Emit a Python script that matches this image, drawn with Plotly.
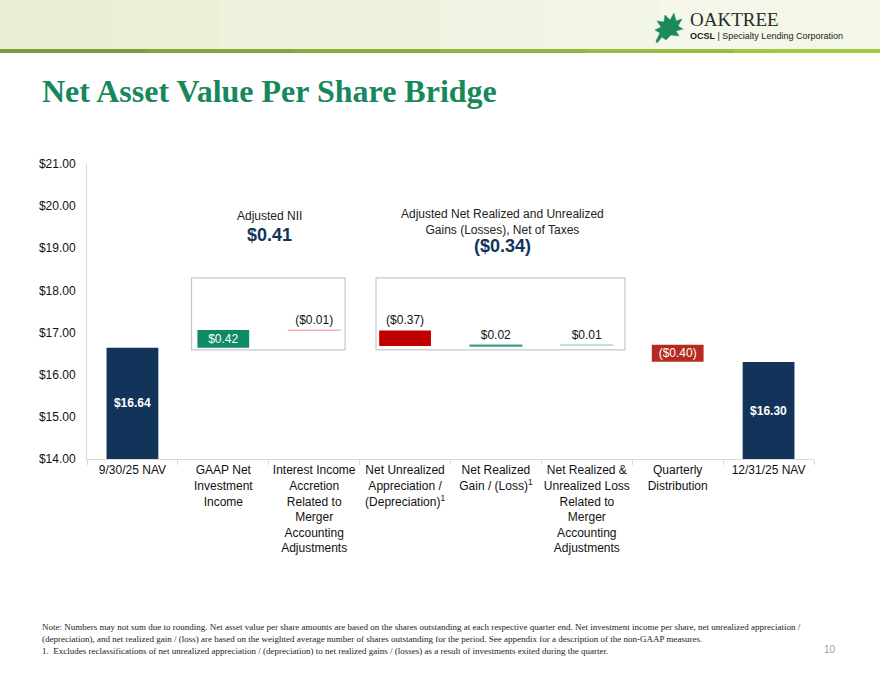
import plotly.graph_objects as go

# ---------------- data ----------------
keys = ["nav0", "gaap", "accr", "unrl", "real", "merg", "dist", "nav1"]
tick_labels = [
    "9/30/25 NAV",
    "GAAP Net<br>Investment<br>Income",
    "Interest Income<br>Accretion<br>Related to<br>Merger<br>Accounting<br>Adjustments",
    "Net Unrealized<br>Appreciation /<br>(Depreciation)<sup>1</sup>",
    "Net Realized<br>Gain / (Loss)<sup>1</sup>",
    "Net Realized &<br>Unrealized Loss<br>Related to<br>Merger<br>Accounting<br>Adjustments",
    "Quarterly<br>Distribution",
    "12/31/25 NAV",
]
start_nav = 16.64
deltas = [0.42, -0.01, -0.37, 0.02, 0.01, -0.40]
end_nav = 16.30
value_labels = ["<b>$16.64</b>", "$0.42", "($0.01)", "($0.37)", "$0.02", "$0.01", "($0.40)", "<b>$16.30</b>"]
bar_colors = ["#12345a", "#0f8a66", "#f0b4ae", "#c00000", "#3f9d8c", "#a8dccf", "#b52b1f", "#12345a"]
text_pos = ["inside", "inside", "outside", "outside", "outside", "outside", "inside", "inside"]
y_ticks = [14, 15, 16, 17, 18, 19, 20, 21]

# --------------- bases ----------------
bases, heights = [14.0], [start_nav - 14.0]
level = start_nav
for d in deltas:
    new = level + d
    bases.append(min(level, new))
    heights.append(abs(d))
    level = new
bases.append(14.0)
heights.append(end_nav - 14.0)

W, H = 880, 680
L, R, T, B = 87, 814, 164, 459


def px(x):
    return (x - L) / (R - L)


def py(y):
    return (B - y) / (B - T)


fig = go.Figure()
fig.add_trace(go.Bar(
    x=keys, y=heights, base=bases,
    marker=dict(color=bar_colors, line=dict(color=bar_colors, width=[0, 0, 1.2, 0, 1.2, 1.2, 0, 0])),
    text=value_labels, textposition=text_pos, constraintext="none",
    insidetextanchor="middle",
    insidetextfont=dict(family="Arial, Liberation Sans", size=12, color="white"),
    outsidetextfont=dict(family="Arial, Liberation Sans", size=12, color="#111111"),
    cliponaxis=False, width=0.57, hoverinfo="skip",
))

shapes = []
# header background bands
hdr_cols = ["#e9efd6", "#ebf0d9", "#edf2dc", "#eef3df", "#f0f4e2", "#f2f6e6", "#f4f7ea", "#f3f7e7"]
n = len(hdr_cols)
for i, c in enumerate(hdr_cols):
    shapes.append(dict(type="rect", xref="paper", yref="paper", x0=px(i * W / n), x1=px((i + 1) * W / n + 1),
                       y0=py(0), y1=py(49), fillcolor=c, line=dict(width=0), layer="below"))
stripe_cols = ["#7f9c3a", "#86a43b", "#8eac3c", "#95b43d", "#9cbc3e", "#a5c640"]
m = len(stripe_cols)
for i, c in enumerate(stripe_cols):
    shapes.append(dict(type="rect", xref="paper", yref="paper", x0=px(i * W / m), x1=px((i + 1) * W / m + 1),
                       y0=py(49), y1=py(53), fillcolor=c, line=dict(width=0), layer="below"))

# leaf logo
leaf_pts = [(656, 41), (660, 33), (655, 30), (661, 27), (657, 21), (664, 22), (665, 15), (670, 20),
            (674, 13), (676, 21), (682, 19), (678, 26), (683, 29), (676, 31), (679, 36), (671, 35),
            (666, 40), (662, 37), (657, 43)]
path = "M " + " L ".join(f"{px(a):.5f},{py(b):.5f}" for a, b in leaf_pts) + " Z"
shapes.append(dict(type="path", xref="paper", yref="paper", path=path, fillcolor="#1a8a5c",
                   line=dict(color="#1a8a5c", width=0.5)))

# group boxes (in category / value units)
for x0, x1 in [(0.65, 2.34), (2.68, 5.42)]:
    shapes.append(dict(type="rect", xref="x", yref="y", x0=x0, x1=x1, y0=16.59, y1=18.30,
                       line=dict(color="#c8c8c8", width=1.2), fillcolor="rgba(0,0,0,0)", layer="below"))

annotations = [
    dict(x=px(40), y=py(91), text="<b>Net Asset Value Per Share Bridge</b>", xanchor="left", yanchor="middle",
         font=dict(family="Liberation Serif, Times New Roman, serif", size=32, color="#17885b")),
    dict(x=px(688), y=py(19), text="OAKTREE", xanchor="left", yanchor="middle",
         font=dict(family="Liberation Serif, serif", size=19, color="#2a2a2a")),
    dict(x=px(688), y=py(36), text="<b>OCSL</b> | Specialty Lending Corporation", xanchor="left", yanchor="middle",
         font=dict(family="Liberation Sans, Arial", size=9, color="#222222")),
    dict(x=px(269), y=py(216), text="Adjusted NII", xanchor="center", yanchor="middle",
         font=dict(family="Arial, Liberation Sans", size=12, color="#222222")),
    dict(x=px(269), y=py(235), text="<b>$0.41</b>", xanchor="center", yanchor="middle",
         font=dict(family="Arial, Liberation Sans", size=18, color="#12345a")),
    dict(x=px(502), y=py(222), text="Adjusted Net Realized and Unrealized<br>Gains (Losses), Net of Taxes",
         xanchor="center", yanchor="middle",
         font=dict(family="Arial, Liberation Sans", size=12, color="#222222")),
    dict(x=px(502), y=py(246), text="<b>($0.34)</b>", xanchor="center", yanchor="middle",
         font=dict(family="Arial, Liberation Sans", size=18, color="#12345a")),
    dict(x=px(40), y=py(627),
         text="Note: Numbers may not sum due to rounding. Net asset value per share amounts are based on the shares outstanding at each respective quarter end. Net investment income per share, net unrealized appreciation /",
         xanchor="left", yanchor="middle",
         font=dict(family="Liberation Serif, Times New Roman, serif", size=9, color="#222222")),
    dict(x=px(40), y=py(639),
         text="(depreciation), and net realized gain / (loss) are based on the weighted average number of shares outstanding for the period. See appendix for a description of the non-GAAP measures.",
         xanchor="left", yanchor="middle",
         font=dict(family="Liberation Serif, Times New Roman, serif", size=9, color="#222222")),
    dict(x=px(40), y=py(651),
         text="1.  Excludes reclassifications of net unrealized appreciation / (depreciation) to net realized gains / (losses) as a result of investments exited during the quarter.",
         xanchor="left", yanchor="middle",
         font=dict(family="Liberation Serif, Times New Roman, serif", size=9, color="#222222")),
    dict(x=px(838), y=py(649), text="10", xanchor="right", yanchor="middle",
         font=dict(family="Arial, Liberation Sans", size=10, color="#a0a0a0")),
]
for a in annotations:
    a.update(xref="paper", yref="paper", showarrow=False)

fig.update_layout(
    width=W, height=H, margin=dict(l=L, r=W - R, t=T, b=H - B),
    paper_bgcolor="white", plot_bgcolor="white", showlegend=False,
    shapes=shapes, annotations=annotations,
    font=dict(family="Arial, Liberation Sans", size=12, color="#222222"),
    xaxis=dict(tickmode="array", tickvals=keys, ticktext=tick_labels, tickangle=0, showline=True,
               linecolor="#d9d9d9", linewidth=1, ticks="outside", tickson="boundaries", tickcolor="#d9d9d9",
               ticklen=5, tickfont=dict(family="Arial, Liberation Sans", size=12, color="#111111"),
               showgrid=False, fixedrange=True),
    yaxis=dict(range=[14, 21], tickvals=y_ticks, ticktext=[f"${v:.2f}" for v in y_ticks], showgrid=False,
               showline=True, linecolor="#d9d9d9", linewidth=1, ticks="", ticklabelstandoff=8,
               tickfont=dict(family="Arial, Liberation Sans", size=12, color="#111111"), zeroline=False,
               fixedrange=True),
)

fig.write_html("out.html")
